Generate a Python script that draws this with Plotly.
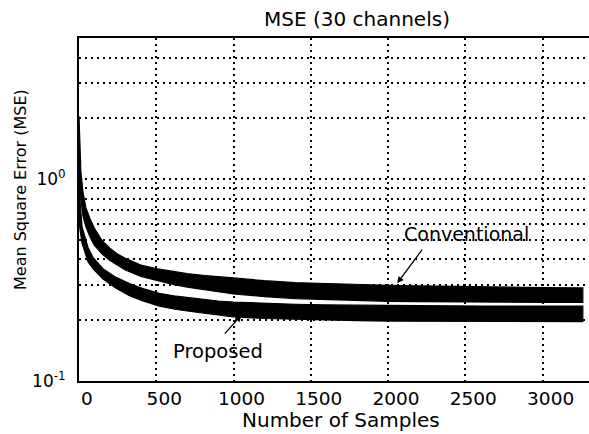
import numpy as np
import plotly.graph_objects as go

# ---- data ----
conv_samples = [0, 5, 12, 25, 45, 70, 100, 150, 200, 250, 300, 400, 500, 600, 700, 800,
                900, 1000, 1200, 1400, 1600, 1800, 2000, 2200, 2400, 2600, 2800, 3000, 3260]
conv_upper = [2.05, 1.45, 1.10, 0.87, 0.72, 0.64, 0.57, 0.495, 0.455, 0.425, 0.405, 0.375, 0.36,
              0.35, 0.34, 0.334, 0.328, 0.324, 0.314, 0.307, 0.304, 0.300, 0.298, 0.296,
              0.294, 0.292, 0.291, 0.290, 0.289]
conv_lower = [1.00, 0.90, 0.78, 0.66, 0.58, 0.52, 0.47, 0.425, 0.395, 0.375, 0.355, 0.33, 0.315,
              0.302, 0.292, 0.284, 0.277, 0.27, 0.262, 0.256, 0.253, 0.25, 0.248, 0.247,
              0.246, 0.245, 0.245, 0.245, 0.245]

prop_samples = [0, 8, 20, 36, 58, 90, 155, 240, 330, 414, 520, 630, 760, 900, 1000, 1200,
                1400, 1600, 1800, 2000, 2200, 2400, 2600, 2800, 3000, 3260]
prop_upper = [1.20, 0.75, 0.58, 0.52, 0.46, 0.41, 0.36, 0.326, 0.303, 0.287, 0.272, 0.263,
              0.256, 0.249, 0.246, 0.242, 0.240, 0.238, 0.237, 0.237, 0.236, 0.235, 0.235,
              0.235, 0.235, 0.235]
prop_lower = [0.62, 0.55, 0.48, 0.44, 0.39, 0.36, 0.32, 0.288, 0.264, 0.249, 0.235, 0.226,
              0.219, 0.212, 0.208, 0.204, 0.202, 0.201, 0.199, 0.198, 0.198, 0.197, 0.197, 0.197,
              0.197, 0.197]

x_ticks = [0, 500, 1000, 1500, 2000, 2500, 3000]
y_ticks = [0.1, 1]
y_ticktext = ["10<sup>-1</sup>", "10<sup>0</sup>"]
y_minor = [0.2, 0.3, 0.4, 0.5, 0.6, 0.7, 0.8, 0.9, 2, 3, 4]

FONT = "DejaVu Sans"
W, H = 589, 434
L, R, T, B = 79, 0, 38, 53
pw, ph = W - L - R, H - T - B


def px2paper(px, py):
    return (px - L) / pw, (H - B - py) / ph


fig = go.Figure()
for s, up, lo in [(conv_samples, conv_upper, conv_lower),
                  (prop_samples, prop_upper, prop_lower)]:
    fig.add_trace(go.Scatter(
        x=s + s[::-1], y=up + lo[::-1], fill="toself", fillcolor="black",
        mode="lines", line=dict(color="black", width=1.2), showlegend=False,
        hoverinfo="skip"))

grid = dict(gridcolor="black", gridwidth=1.6, griddash="2px,4px")

fig.update_layout(
    width=W, height=H, margin=dict(l=L, r=R, t=T, b=B),
    paper_bgcolor="white", plot_bgcolor="white",
    font=dict(family=FONT, color="black", size=17),
    title=dict(text="MSE (30 channels)", x=357 / W, xanchor="center",
               y=1 - 19 / H, yanchor="middle", font=dict(family=FONT, size=20)),
    xaxis=dict(range=[0, 3300], tickvals=x_ticks, showgrid=True, **grid,
               showline=True, linecolor="black", linewidth=2, mirror=True,
               zeroline=False, ticks="", ticklabelshift=8,
               tickfont=dict(family=FONT, size=18.5)),
    yaxis=dict(type="log", range=[-1, np.log10(5)], tickvals=y_ticks,
               ticktext=y_ticktext, showgrid=True, **grid,
               minor=dict(tickvals=y_minor, showgrid=True, **grid, ticks=""),
               showline=True, linecolor="black", linewidth=2, zeroline=False,
               ticks="", ticklabelstandoff=8, tickfont=dict(family=FONT, size=17)),
)

ann = []
# axis titles
xp, yp = px2paper(341, 420)
ann.append(dict(text="Number of Samples", xref="paper", yref="paper", x=xp, y=yp,
                xanchor="center", yanchor="middle", showarrow=False,
                font=dict(family=FONT, size=20)))
xp, yp = px2paper(20, 190)
ann.append(dict(text="Mean Square Error (MSE)", xref="paper", yref="paper", x=xp, y=yp,
                xanchor="center", yanchor="middle", showarrow=False, textangle=-90,
                font=dict(family=FONT, size=16)))
# curve labels
xp, yp = px2paper(466, 234)
ann.append(dict(text="Conventional", xref="paper", yref="paper", x=xp, y=yp,
                xanchor="center", yanchor="middle", showarrow=False,
                font=dict(family=FONT, size=19)))
xp, yp = px2paper(218, 351)
ann.append(dict(text="Proposed", xref="paper", yref="paper", x=xp, y=yp,
                xanchor="center", yanchor="middle", showarrow=False,
                font=dict(family=FONT, size=19.5)))
# arrows
ann.append(dict(text="", x=2059, y=np.log10(0.305), xref="x", yref="y",
                showarrow=True, ax=26, ay=-35, arrowhead=2, arrowsize=1,
                arrowwidth=1.3, arrowcolor="black"))
ann.append(dict(text="", x=1051, y=np.log10(0.212), xref="x", yref="y",
                showarrow=True, ax=-18, ay=20, arrowhead=2, arrowsize=1,
                arrowwidth=1.3, arrowcolor="black"))
fig.update_layout(annotations=ann)

fig.write_html("out.html")
